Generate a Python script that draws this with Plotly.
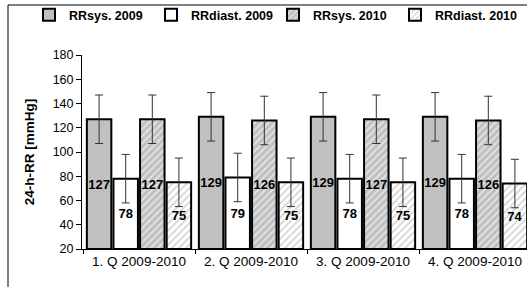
import plotly.graph_objects as go

categories = ["1. Q 2009-2010", "2. Q 2009-2010", "3. Q 2009-2010", "4. Q 2009-2010"]
series_names = ["RRsys. 2009", "RRdiast. 2009", "RRsys. 2010", "RRdiast. 2010"]
sys_2009 = [127, 129, 129, 129]
diast_2009 = [78, 79, 78, 78]
sys_2010 = [127, 126, 127, 126]
diast_2010 = [75, 75, 75, 74]
err_sys_2009 = [20, 20, 20, 20]
err_diast_2009 = [20, 20, 20, 20]
err_sys_2010 = [20, 20, 20, 20]
err_diast_2010 = [20, 20, 20, 20]
y_ticks = [20, 40, 60, 80, 100, 120, 140, 160, 180]

FONT = "Arial, 'Liberation Sans', sans-serif"

styles = [
    dict(color="#c0c0c0", pattern=None),
    dict(color="#ffffff", pattern=None),
    dict(color="#c0c0c0", pattern=dict(shape="/", bgcolor="#c0c0c0", fgcolor="#e4e4e4",
                                      size=5, solidity=0.35, fillmode="replace")),
    dict(color="#ffffff", pattern=dict(shape="/", bgcolor="#ffffff", fgcolor="#d6d6d6",
                                      size=5, solidity=0.35, fillmode="replace")),
]
values = [sys_2009, diast_2009, sys_2010, diast_2010]
errors = [err_sys_2009, err_diast_2009, err_sys_2010, err_diast_2010]

fig = go.Figure()
for name, vals, errs, st in zip(series_names, values, errors, styles):
    marker = dict(color=st["color"], line=dict(color="#000000", width=2))
    if st["pattern"]:
        marker["pattern"] = st["pattern"]
    fig.add_trace(go.Bar(
        name=name, x=categories, y=[v - 20 for v in vals], base=20,
        marker=marker,
        text=[str(v) for v in vals], textposition="inside", insidetextanchor="middle",
        textangle=0, constraintext="none",
        insidetextfont=dict(family=FONT, size=13, color="#000000", weight="bold"),
        error_y=dict(type="data", array=errs, visible=True, color="#333333",
                     thickness=1, width=4),
    ))

L, W, T, H = 82, 445, 55, 194
fig.update_layout(
    width=527, height=287,
    margin=dict(l=L, r=527 - L - W, t=T, b=287 - T - H, pad=0, autoexpand=False),
    paper_bgcolor="#ffffff", plot_bgcolor="#ffffff",
    font=dict(family=FONT, color="#000000"),
    barmode="group", bargap=0.05, bargroupgap=0.08,
    showlegend=True,
    legend=dict(orientation="h", x=(29 - L) / W, xanchor="left",
                y=(H + T - 15) / H, yanchor="middle",
                font=dict(family=FONT, size=12.5, weight="bold", color="#000000"),
                entrywidth=77, entrywidthmode="pixels",
                bgcolor="rgba(0,0,0,0)", borderwidth=0),
    xaxis=dict(type="category", range=[-0.5 - 1 / 112, -0.5 - 1 / 112 + W / 112],
               showline=True, linecolor="#000000", linewidth=1,
               ticks="outside", tickson="boundaries", ticklen=4, tickcolor="#000000",
               tickfont=dict(family=FONT, size=13.5, color="#000000"),
               showgrid=False, zeroline=False, automargin=False),
    yaxis=dict(range=[20, 180], tickvals=y_ticks, showline=True, linecolor="#000000",
               linewidth=1, ticks="outside", ticklen=5, tickcolor="#000000",
               tickfont=dict(family=FONT, size=12.5, color="#000000"),
               showgrid=False, zeroline=False, automargin=False,
               title=dict(text="24-h-RR [mmHg]", standoff=14,
                          font=dict(family=FONT, size=13.5, weight="bold", color="#000000"))),
    shapes=[dict(type="rect", xref="paper", yref="paper",
                 x0=(8 - L) / W, x1=(545 - L) / W, y0=(T + H - 300) / H, y1=(T + H - 5) / H,
                 line=dict(color="#000000", width=1), fillcolor="rgba(0,0,0,0)", layer="below")],
)

fig.write_html("out.html", config={"displayModeBar": False},
               post_script="document.body.style.margin='0';document.body.style.overflow='hidden';")
